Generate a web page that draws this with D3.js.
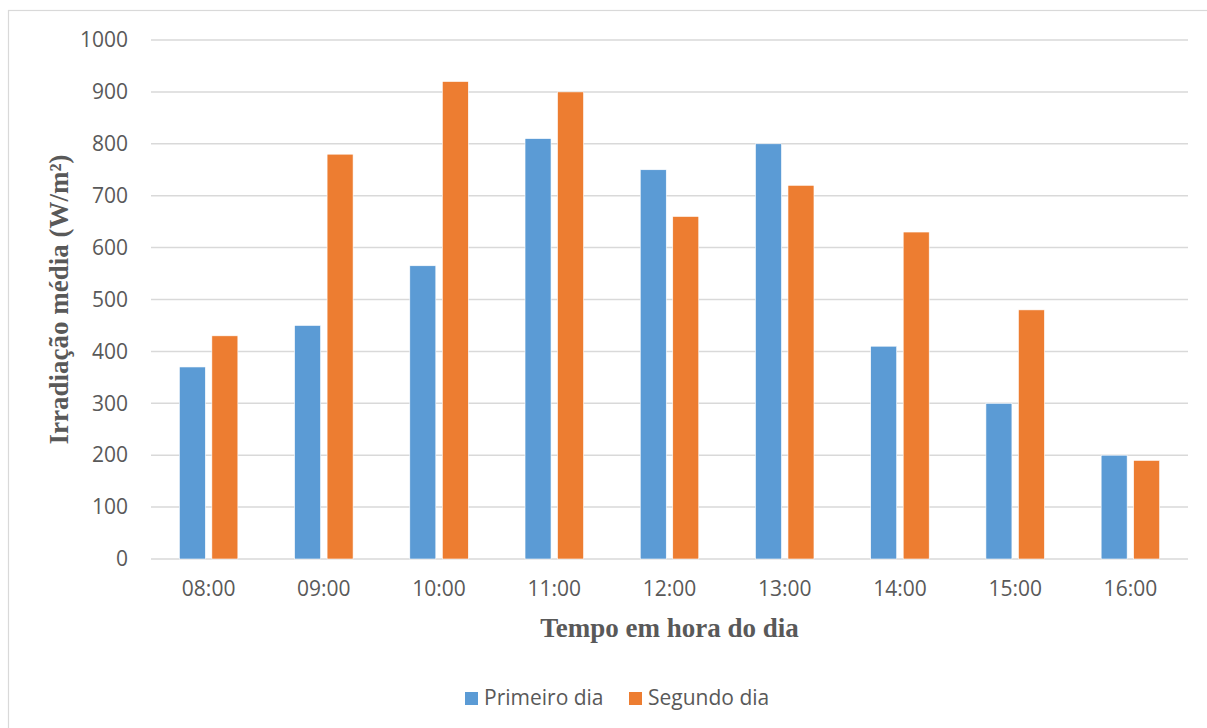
<!DOCTYPE html>
<html>
<head>
<meta charset="utf-8">
<script src="https://cdn.jsdelivr.net/npm/d3@7"></script>
<style>
  html, body { margin: 0; padding: 0; background: #fff; }
  svg { display: block; }
  .tick text { font-family: 'Open Sans', sans-serif; font-size: 21px; fill: #595959; }
  .axis-title { font-family: 'Liberation Serif', serif; font-weight: bold; font-size: 27px; fill: #595959; }
  .legend text { font-family: 'Open Sans', sans-serif; font-size: 21px; fill: #595959; }
</style>
</head>
<body>
<div id="chart"></div>
<script>
const hours = ['08:00', '09:00', '10:00', '11:00', '12:00', '13:00', '14:00', '15:00', '16:00'];
const primeiroDia = [370, 450, 565, 810, 750, 800, 410, 300, 200];
const segundoDia = [430, 780, 920, 900, 660, 720, 630, 480, 190];
const yTicks = [0, 100, 200, 300, 400, 500, 600, 700, 800, 900, 1000];
const seriesNames = ['Primeiro dia', 'Segundo dia'];
const colors = ['#5b9bd5', '#ed7d31'];

const W = 1207;
const H = 728;
const margins = { top: 40, right: 19, bottom: 169, left: 151 };
const width = W - margins.left - margins.right;
const height = H - margins.top - margins.bottom;

const svg = d3.select('#chart')
  .append('svg')
    .attr('width', W)
    .attr('height', H);

// chart frame
svg.append('rect')
  .attr('x', 8.5)
  .attr('y', 10.5)
  .attr('width', W)
  .attr('height', H)
  .attr('fill', 'none')
  .attr('stroke', '#d9d9d9')
  .attr('stroke-width', 1.2);

const g = svg.append('g')
  .attr('transform', `translate(${margins.left}, ${margins.top})`);

const scaleX = d3.scaleBand()
  .domain(hours)
  .range([0, width]);

const scaleY = d3.scaleLinear()
  .domain([0, 1000])
  .range([height, 0]);

// gridlines
g.append('g')
  .selectAll('line')
  .data(yTicks)
  .enter()
  .append('line')
    .attr('x1', 0)
    .attr('x2', width)
    .attr('y1', d => scaleY(d))
    .attr('y2', d => scaleY(d))
    .attr('stroke', '#d9d9d9')
    .attr('stroke-width', 1.5);

// y axis
const axisY = d3.axisLeft(scaleY)
  .tickValues(yTicks)
  .tickFormat(d3.format('d'))
  .tickSize(0)
  .tickPadding(23);
g.append('g')
  .call(axisY)
  .call(a => a.select('.domain').remove());

// x axis
const axisX = d3.axisBottom(scaleX)
  .tickSize(0)
  .tickPadding(22);
g.append('g')
  .attr('transform', `translate(0, ${height})`)
  .call(axisX)
  .call(a => a.select('.domain').remove());

// bars
const barWidth = 26;
const barGap = 6.5;
const data = [primeiroDia, segundoDia];

data.forEach((values, s) => {
  g.append('g')
    .selectAll('rect')
    .data(values)
    .enter()
    .append('rect')
      .attr('x', (d, i) => scaleX(hours[i]) + scaleX.bandwidth() / 2 +
        (s === 0 ? -barGap / 2 - barWidth : barGap / 2))
      .attr('y', d => scaleY(d))
      .attr('width', barWidth)
      .attr('height', d => scaleY(0) - scaleY(d))
      .attr('fill', colors[s])
      .attr('stroke', '#fff')
      .attr('stroke-width', 0.6);
});

// axis titles
svg.append('text')
  .attr('class', 'axis-title')
  .attr('x', margins.left + width / 2)
  .attr('y', 637)
  .attr('text-anchor', 'middle')
  .text('Tempo em hora do dia');

svg.append('text')
  .attr('class', 'axis-title')
  .attr('transform', `translate(68, ${margins.top + height / 2}) rotate(-90)`)
  .attr('text-anchor', 'middle')
  .text('Irradiação média (W/m²)');

// legend
const legendX = [465, 629];
const legend = svg.append('g')
  .attr('class', 'legend')
  .selectAll('g')
  .data(seriesNames)
  .enter()
  .append('g')
    .attr('transform', (d, i) => `translate(${legendX[i]}, 692)`);

legend.append('rect')
  .attr('width', 13)
  .attr('height', 13)
  .attr('fill', (d, i) => colors[i]);

legend.append('text')
  .attr('x', 19)
  .attr('y', 13)
  .text(d => d);
</script>
</body>
</html>
